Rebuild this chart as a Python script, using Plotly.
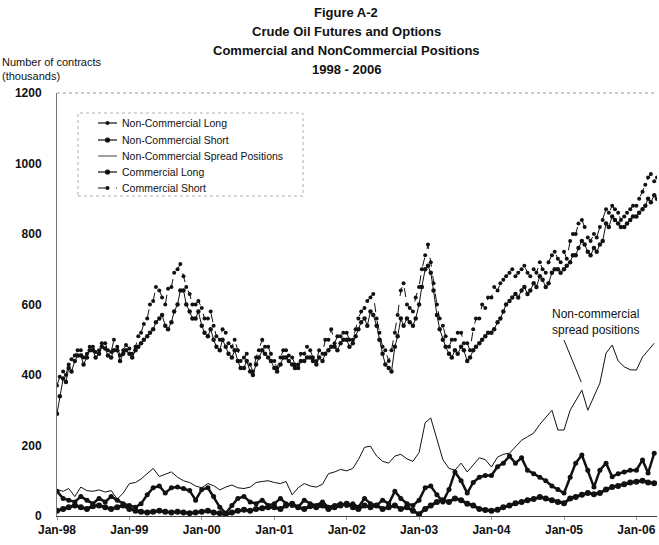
import pandas as pd
import plotly.graph_objects as go

# monthly observations, Jan-1998 .. Apr-2006 (thousands of contracts)
months = pd.date_range("1998-01-01", periods=100, freq="MS")
# commercial positions read twice a month (1st and 15th)
half_months = sorted(list(months) + list(months + pd.Timedelta(days=14)))

nc_long = [
    70, 50, 45, 40, 55, 45, 35, 50, 40, 55, 45, 35,
    30, 25, 35, 60, 80, 85, 65, 80, 82, 78, 72, 45,
    75, 80, 55, 25, 8, 30, 50, 55, 40, 35, 45, 30,
    35, 50, 35, 30, 25, 45, 35, 30, 40, 25, 30, 35,
    30, 35, 25, 50, 35, 30, 45, 35, 70, 50, 35, 30,
    45, 80, 85, 60, 40, 75, 125, 100, 65, 95, 110, 115,
    115, 140, 150, 170, 150, 165, 130, 120, 110, 100, 85, 75,
    65, 110, 150, 173, 130, 82, 130, 150, 111, 120, 125, 130,
    130, 159, 122, 178,
]
nc_short = [
    15, 20, 25, 30, 25, 20, 28, 30, 25, 20, 25, 30,
    20, 15, 12, 10, 12, 15, 12, 10, 12, 10, 8, 10,
    12, 15, 10, 8, 5, 10, 15, 18, 15, 20, 22, 25,
    25, 20, 30, 35, 25, 20, 28, 25, 30, 20, 25, 30,
    35, 25, 20, 30, 25, 30, 20, 25, 30, 20, 25, 15,
    5, 20, 30, 40, 45, 40, 50, 45, 35, 30, 20, 17,
    15, 18, 25, 30, 36, 40, 45, 48, 54, 50, 45, 40,
    36, 50, 54, 60, 65, 62, 65, 75, 82, 85, 90, 95,
    97, 100, 95, 93,
]
nc_spread = [
    75, 70, 78, 55, 82, 72, 70, 74, 68, 72, 48, 65,
    92, 95, 105, 120, 135, 112, 118, 125, 110, 100, 95, 85,
    80, 92, 86, 74, 82, 88, 80, 78, 82, 95, 98, 100,
    95, 92, 98, 60, 80, 92, 85, 82, 90, 120, 125, 132,
    128, 135, 160, 195, 198, 170, 155, 150, 170, 175, 162, 155,
    180, 265, 278, 216, 160, 135, 130, 150, 125, 145, 165, 160,
    139, 167, 175, 178, 196, 215, 225, 235, 260, 281, 300, 244,
    244, 300, 329, 357, 300, 338, 377, 462, 485, 440, 423, 415,
    414, 451, 470, 490,
]
comm_long = [
    290, 340, 390, 380, 420, 410, 440, 455, 455, 430, 450, 470,
    470, 450, 460, 480, 475, 455, 450, 470, 470, 440, 460, 470,
    460, 450, 470, 480, 490, 500, 510, 520, 530, 550, 560, 570,
    540, 530, 550, 580, 600, 640, 640, 600, 580, 560, 560, 580,
    540, 520, 510, 530, 500, 480, 470, 500, 480, 460, 450, 470,
    440, 420, 420, 440, 410, 400, 430, 450, 470, 460, 450, 440,
    420, 410, 430, 450, 450, 440, 430, 420, 420, 440, 440, 450,
    450, 440, 430, 450, 440, 460, 470, 480, 480, 470, 490, 500,
    500, 480, 490, 510, 530, 550, 560, 540, 580, 570, 540, 500,
    460, 430, 420, 410, 480, 510, 560, 540, 560, 550, 540, 560,
    600, 650, 700, 710, 690, 640, 570, 530, 500, 480, 460, 450,
    470, 460, 480, 470, 440, 450, 470, 480, 490, 500, 510, 520,
    520, 530, 550, 560, 580, 600, 610, 620, 630, 620, 640, 650,
    630, 640, 660, 650, 680, 670, 650, 660, 690, 700, 700, 690,
    700, 710, 720, 740, 740, 760, 780, 770, 750, 740, 760, 750,
    770, 780, 830, 820, 850, 840, 830, 820, 820, 830, 840, 850,
    850, 860, 870, 880, 900, 890, 910, 900,
]
comm_short = [
    370, 395, 410, 400, 430, 445, 455, 470, 470, 450, 460, 480,
    480, 465, 470, 490, 490, 470, 465, 500, 480, 455, 470, 485,
    475, 460, 480, 510, 520, 545, 560, 600, 610, 650, 640, 620,
    600, 645, 650, 690, 700, 715, 680, 650, 630, 600, 600, 610,
    590, 560, 560, 580, 540, 510, 500, 530, 520, 490, 480, 500,
    470, 440, 450, 460, 430, 410, 450, 470, 500, 480, 480, 460,
    440, 420, 450, 470, 470, 455, 450, 430, 430, 460, 460, 480,
    470, 450, 440, 470, 460, 500, 500, 530, 490, 510, 510, 520,
    520, 500, 500, 530, 560, 580, 590, 610, 620, 630, 560, 520,
    480, 470, 440, 470, 520, 570, 640, 660, 600, 590, 580, 620,
    650, 700, 740, 770, 720, 660, 600, 560, 540, 510, 480, 500,
    500, 520, 520, 490, 490, 470, 530, 560, 560, 600, 590, 620,
    620, 650, 640, 660, 670, 680, 690, 700, 680, 690, 700, 710,
    690, 680, 700, 690, 720, 700, 690, 720, 740, 750, 730, 720,
    750, 730, 780, 800, 800, 830, 840, 820, 790, 780, 800, 790,
    820, 840, 870, 860, 880, 870, 860, 840, 850, 860, 870, 880,
    880, 900, 920, 940, 960, 970, 950, 960,
]

year_ticks = pd.date_range("1998-01-01", "2006-01-01", freq="YS")
year_labels = [d.strftime("Jan-%y") for d in year_ticks]
y_ticks = [0, 200, 400, 600, 800, 1000, 1200]

INK = "#111111"
FONT = "Liberation Sans, Arial, sans-serif"

# plot area in pixels: left 57, right 657, top 93, bottom 516
def px(x):
    return (x - 57) / 600


def py(y):
    return (516 - y) / 423


styles = [
    # name, line, marker
    ("Non-Commercial Long", dict(color=INK, width=2.5), dict(size=5, color=INK, symbol="circle")),
    ("Non-Commercial Short", dict(color=INK, width=3), dict(size=6, color=INK, symbol="circle")),
    ("Non-Commercial Spread Positions", dict(color=INK, width=1), None),
    ("Commercial Long", dict(color=INK, width=1), dict(size=4.5, color=INK, symbol="circle")),
    ("Commercial Short", dict(color=INK, width=1, dash="dash"), dict(size=4, color=INK, symbol="circle")),
]
series = [(months, nc_long), (months, nc_short), (months, nc_spread),
          (half_months, comm_long), (half_months, comm_short)]

fig = go.Figure()
for (name, line, marker), (xs, ys) in zip(styles, series):
    fig.add_trace(go.Scatter(
        x=xs, y=ys, name=name,
        mode="lines+markers" if marker else "lines",
        line=line, marker=marker, showlegend=False,
    ))

# hand-built legend (tighter spacing than plotly's)
legend_y = [123, 140, 156, 172, 188]
legend_marker = [2.0, 2.6, 0, 2.6, 2.0]
legend_width = [1.2, 1.2, 0.8, 1.2, 1.0]
for (name, line, marker), ly, r, lw in zip(styles, legend_y, legend_marker, legend_width):
    fig.add_shape(type="line", xref="paper", yref="paper",
                  x0=px(98), x1=px(117), y0=py(ly), y1=py(ly),
                  line=dict(color=INK, width=lw, dash=line.get("dash", "solid")))
    if r:
        fig.add_shape(type="circle", xref="paper", yref="paper",
                      x0=px(107.5 - r), x1=px(107.5 + r),
                      y0=py(ly + r), y1=py(ly - r),
                      fillcolor=INK, line=dict(color=INK, width=0))
    fig.add_annotation(text=name, xref="paper", yref="paper",
                       x=px(120), y=py(ly), showarrow=False,
                       xanchor="left", yanchor="middle",
                       font=dict(size=10.5, color=INK, family=FONT))
fig.add_shape(type="rect", xref="paper", yref="paper",
              x0=px(78), x1=px(303), y0=py(196), y1=py(113),
              line=dict(color="#b0b0b0", width=1, dash="dot"))

# title block
title_lines = ["Figure A-2", "Crude Oil Futures and Options",
               "Commercial and NonCommercial Positions", "1998 - 2006"]
for i, txt in enumerate(title_lines):
    fig.add_annotation(
        text=f"<b>{txt}</b>", xref="paper", yref="paper",
        x=px(346), y=py(12 + 19.3 * i),
        showarrow=False, font=dict(size=13, color=INK, family=FONT),
        xanchor="center", yanchor="middle",
    )

# y-axis caption at top-left
for txt, ty in [("Number of contracts", 62), ("(thousands)", 76)]:
    fig.add_annotation(
        text=txt, xref="paper", yref="paper", x=px(0), y=py(ty),
        showarrow=False, font=dict(size=11, color=INK, family=FONT),
        xanchor="left", yanchor="middle",
    )

# callout for spread positions
fig.add_annotation(
    text="Non-commercial<br>spread positions", xref="paper", yref="paper",
    x=px(550), y=py(322), showarrow=False,
    font=dict(size=12, color=INK, family=FONT),
    xanchor="left", yanchor="middle", align="left",
)
fig.add_shape(type="line", x0="2005-01-01", y0=499, x1="2005-03-29", y1=380,
              line=dict(color=INK, width=1))

# faint dotted top border
fig.add_shape(type="line", xref="paper", yref="paper", x0=0, x1=1, y0=1, y1=1,
              line=dict(color="#999999", width=1, dash="dot"))

fig.update_layout(
    width=659, height=545,
    margin=dict(l=57, r=2, t=93, b=29),
    paper_bgcolor="white", plot_bgcolor="white",
    font=dict(family=FONT, color=INK),
    showlegend=False,
    xaxis=dict(
        range=["1998-01-01", "2006-04-15"], automargin=False,
        tickvals=year_ticks, ticktext=[f"<b>{t}</b>" for t in year_labels],
        tickfont=dict(size=12, color=INK, family=FONT),
        showgrid=False, zeroline=False,
        showline=True, linecolor="#444444", linewidth=1,
        ticks="outside", ticklen=3, tickcolor="#999999",
    ),
    yaxis=dict(
        range=[0, 1200], automargin=False, tickvals=y_ticks,
        ticktext=[f"<b>{v}</b>" for v in y_ticks],
        tickfont=dict(size=12, color=INK, family=FONT),
        showgrid=False, zeroline=False,
        showline=True, linecolor="#777777", linewidth=1,
        ticks="", ticklabelstandoff=12,
    ),
)

# drop the page's default body margin so the figure sits at the window corner
fig.write_html("out.html", config={"displayModeBar": False},
               post_script="document.body.style.margin='0';")
